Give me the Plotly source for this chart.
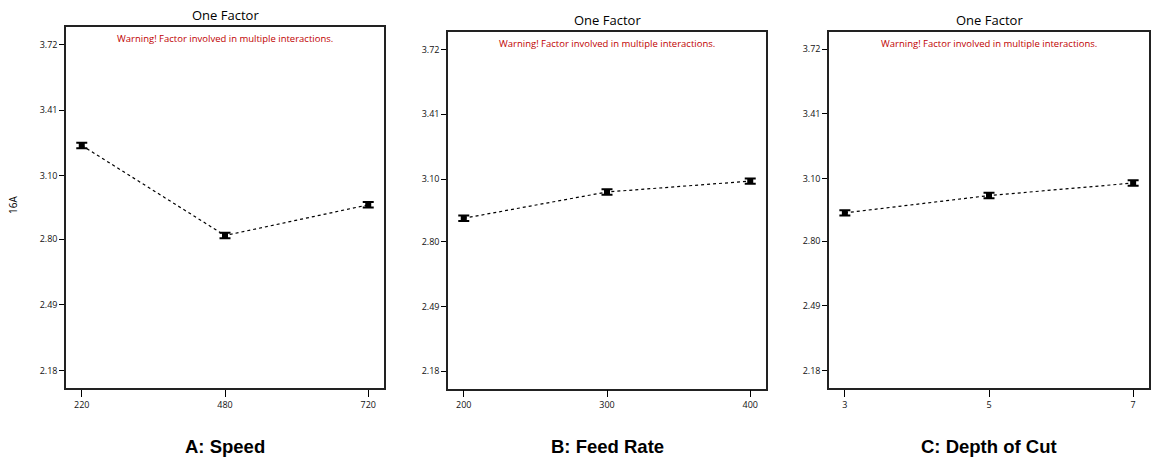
import plotly.graph_objects as go

W, H = 1153, 458

speed_levels = ["220", "480", "720"]
speed_vals = [3.244, 2.818, 2.963]
feed_levels = ["200", "300", "400"]
feed_vals = [2.912, 3.038, 3.090]
depth_levels = ["3", "5", "7"]
depth_vals = [2.936, 3.019, 3.079]
err_half = [0.013, 0.013, 0.013]

y_ticks = [2.18, 2.49, 2.80, 3.10, 3.41, 3.72]
y_tick_text = ["2.18", "2.49", "2.80", "3.10", "3.41", "3.72"]

panel_titles = ["A: Speed", "B: Feed Rate", "C: Depth of Cut"]
y_title = "16A"
warning = "Warning! Factor involved in multiple interactions."
top_title = "One Factor"

panels = [
    (speed_levels, speed_vals, (66, 384), (27, 388)),
    (feed_levels, feed_vals, (448, 766), (32, 388.5)),
    (depth_levels, depth_vals, (829, 1149), (31.7, 388)),
]

fig = go.Figure()
layout = dict(
    width=W, height=H, margin=dict(l=0, r=0, t=0, b=0),
    paper_bgcolor="white", plot_bgcolor="white", showlegend=False,
    font=dict(family="Open Sans", color="black"),
)
annotations = []
tick_font = dict(family="Liberation Sans Narrow, Open Sans", size=9, color="#111")

for i, (levels, vals, (x0, x1), (ytop, ybot)) in enumerate(panels):
    n = "" if i == 0 else str(i + 1)
    pos = list(range(len(levels)))
    fig.add_trace(go.Scatter(
        x=pos, y=vals, xaxis="x" + n, yaxis="y" + n,
        mode="lines+markers",
        line=dict(color="black", width=1.2, dash="dot"),
        marker=dict(symbol="square", size=6, color="black"),
        error_y=dict(type="data", array=err_half, color="black", thickness=2, width=5.5),
        hoverinfo="skip",
    ))
    xd = [x0 / W, x1 / W]
    yd = [1 - ybot / H, 1 - ytop / H]
    layout["xaxis" + n] = dict(
        domain=xd, range=[-0.11, 2.11], anchor="y" + n,
        tickvals=pos, ticktext=levels, ticks="outside", ticklen=7, tickwidth=1.2,
        tickcolor="black", tickfont=tick_font,
        showline=True, linecolor="#222", linewidth=1.5, mirror=True,
        showgrid=False, zeroline=False, fixedrange=True,
    )
    layout["yaxis" + n] = dict(
        domain=yd, range=[2.097, 3.804], anchor="x" + n,
        tickvals=y_ticks, ticktext=y_tick_text, ticks="outside", ticklen=5, tickwidth=1.2,
        tickcolor="black", tickfont=tick_font,
        showline=True, linecolor="#222", linewidth=1.5, mirror=True,
        showgrid=False, zeroline=False, fixedrange=True,
    )
    cx = (x0 + x1) / 2 / W
    annotations.append(dict(
        x=cx, y=1 - (ytop - 12) / H, xref="paper", yref="paper",
        text=top_title, showarrow=False, font=dict(family="Open Sans", size=13, color="black"),
        xanchor="center", yanchor="middle"))
    annotations.append(dict(
        x=cx, y=1 - (ytop + 11.5) / H, xref="paper", yref="paper",
        text=warning, showarrow=False, font=dict(family="Open Sans", size=9.5, color="#c00000"),
        xanchor="center", yanchor="middle"))
    annotations.append(dict(
        x=cx, y=1 - 446 / H, xref="paper", yref="paper",
        text="<b>" + panel_titles[i] + "</b>", showarrow=False,
        font=dict(family="Liberation Sans", size=18.5, color="black"),
        xanchor="center", yanchor="middle"))

annotations.append(dict(
    x=13 / W, y=1 - 205 / H, xref="paper", yref="paper", text=y_title,
    showarrow=False, textangle=-90, font=dict(family="Open Sans", size=10, color="black"),
    xanchor="center", yanchor="middle"))

layout["annotations"] = annotations
fig.update_layout(**layout)
fig.write_html("out.html")
